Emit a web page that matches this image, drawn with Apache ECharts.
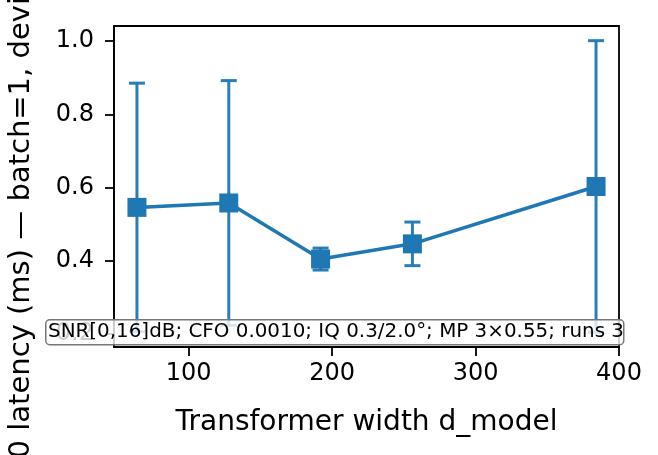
<!DOCTYPE html>
<html lang="en">
<head>
    <meta charset="UTF-8">
    <title>latency vs d_model</title>
    <script src="https://cdn.jsdelivr.net/npm/echarts@6/dist/echarts.min.js"></script>
    <style>
        * { margin: 0; padding: 0; }
        html, body { width: 658px; height: 455px; background: #fff; }
        #main { width: 658px; height: 455px; }
    </style>
</head>
<body>
<div id="main"></div>
<script>
    // data
    var dModel = [64, 128, 192, 256, 384];
    var latency = [0.546, 0.558, 0.405, 0.4465, 0.603];
    var latencyErr = [0.339, 0.334, 0.03, 0.0595, 0.398];
    var xTicks = [100, 200, 300, 400];
    var yTicks = [0.2, 0.4, 0.6, 0.8, 1.0];
    var note = 'SNR[0,16]dB; CFO 0.0010; IQ 0.3/2.0°; MP 3×0.55; runs 3';
    var yName = 'p50 latency (ms) — batch=1, device=GPU';
    var xName = 'Transformer width d_model';

    var blue = '#1f77b4';
    var font = 'DejaVu Sans';

    var lineData = dModel.map((x, i) => [x, latency[i]]);
    var errData = dModel.map((x, i) => [x, latency[i] - latencyErr[i], latency[i] + latencyErr[i]]);

    var chart = echarts.init(document.getElementById('main'), null, { renderer: 'canvas' });
    var option = {
        animation: false,
        backgroundColor: '#fff',
        grid: { left: 114, right: 39, top: 26, bottom: 108, outerBoundsMode: 'none', containLabel: false,
            show: true, borderColor: '#000', borderWidth: 1.8, backgroundColor: 'transparent' },
        xAxis: {
            type: 'value', min: 48, max: 400,
            name: xName, nameLocation: 'middle', nameGap: 62,
            nameTextStyle: { fontFamily: font, fontSize: 28, color: '#000' },
            axisLine: { show: true, onZero: false, lineStyle: { color: '#000', width: 1.8 } },
            axisTick: { show: true, length: 9, customValues: xTicks, lineStyle: { color: '#000', width: 1.8 } },
            axisLabel: { customValues: xTicks, margin: 15, fontFamily: font, fontSize: 24, color: '#000' },
            splitLine: { show: false }
        },
        yAxis: {
            type: 'value', min: 0.165, max: 1.041,
            name: yName, nameLocation: 'middle', nameGap: 78, nameRotate: 90,
            nameTextStyle: { fontFamily: font, fontSize: 29, color: '#000' },
            axisLine: { show: true, onZero: false, lineStyle: { color: '#000', width: 1.8 } },
            axisTick: { show: true, length: 9, customValues: yTicks, lineStyle: { color: '#000', width: 1.8 } },
            axisLabel: { customValues: yTicks, margin: 20, fontFamily: font, fontSize: 24, color: '#000',
                formatter: v => v.toFixed(1) },
            splitLine: { show: false }
        },
        series: [
            {
                type: 'custom',
                data: errData,
                z: 2,
                renderItem: function (params, api) {
                    var x = api.value(0);
                    var lo = api.coord([x, api.value(1)]);
                    var hi = api.coord([x, api.value(2)]);
                    var cap = 8;
                    var style = { stroke: blue, lineWidth: 3, opacity: 0.95 };
                    return {
                        type: 'group',
                        children: [
                            { type: 'line', shape: { x1: lo[0], y1: lo[1], x2: hi[0], y2: hi[1] }, style: style },
                            { type: 'line', shape: { x1: lo[0] - cap, y1: lo[1], x2: lo[0] + cap, y2: lo[1] }, style: style },
                            { type: 'line', shape: { x1: hi[0] - cap, y1: hi[1], x2: hi[0] + cap, y2: hi[1] }, style: style }
                        ]
                    };
                }
            },
            {
                type: 'line',
                data: lineData,
                z: 3,
                symbol: 'rect',
                symbolSize: 19,
                showAllSymbol: true,
                lineStyle: { color: blue, width: 3.5 },
                itemStyle: { color: blue, opacity: 1 }
            }
        ],
        graphic: [
            {
                type: 'rect', left: 45, top: 319, z: 100, zlevel: 1,
                shape: { width: 578, height: 25, r: 4 },
                style: { fill: 'rgba(255,255,255,0.8)', stroke: '#777', lineWidth: 1.5 }
            },
            {
                type: 'text', left: 48, top: 322, z: 101, zlevel: 1,
                style: { text: note, fontFamily: font, fontSize: 19.9, fill: '#000' }
            }
        ]
    };
    chart.setOption(option);
</script>
</body>
</html>
